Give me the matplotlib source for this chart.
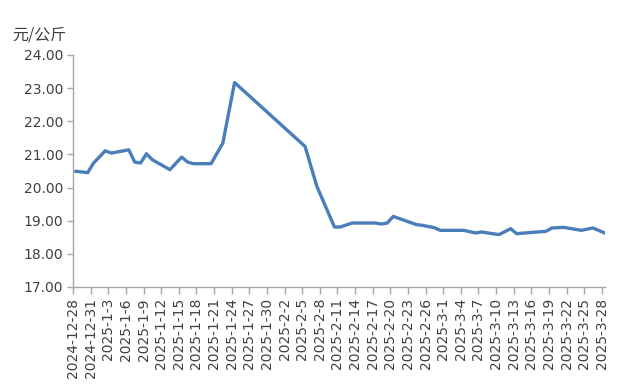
import matplotlib
matplotlib.use("Agg")
import matplotlib.pyplot as plt
import pandas as pd

# Daily price readings (元/公斤)
dates = [
    "2024-12-28", "2024-12-30", "2024-12-31", "2025-01-02", "2025-01-03",
    "2025-01-06", "2025-01-07", "2025-01-08", "2025-01-09", "2025-01-10",
    "2025-01-13", "2025-01-15", "2025-01-16", "2025-01-17", "2025-01-20",
    "2025-01-22", "2025-01-24", "2025-02-05", "2025-02-07", "2025-02-10",
    "2025-02-11", "2025-02-13", "2025-02-17", "2025-02-18", "2025-02-19",
    "2025-02-20", "2025-02-24", "2025-02-25", "2025-02-27", "2025-02-28",
    "2025-03-03", "2025-03-04", "2025-03-06", "2025-03-07", "2025-03-10",
    "2025-03-12", "2025-03-13", "2025-03-18", "2025-03-19", "2025-03-21",
    "2025-03-24", "2025-03-26", "2025-03-28",
]
prices = [
    20.49, 20.45, 20.74, 21.11, 21.04,
    21.14, 20.77, 20.74, 21.02, 20.84,
    20.54, 20.92, 20.77, 20.72, 20.72,
    21.34, 23.17, 21.24, 20.04, 18.81,
    18.81, 18.93, 18.93, 18.90, 18.93,
    19.13, 18.88, 18.86, 18.79, 18.71,
    18.71, 18.71, 18.63, 18.66, 18.58,
    18.76, 18.61, 18.68, 18.78, 18.80,
    18.71, 18.78, 18.63,
]
start = pd.Timestamp("2024-12-28")
tick_dates = pd.date_range(start, "2025-03-28", freq="3D")
tick_labels = [f"{d.year}-{d.month}-{d.day}" for d in tick_dates]

LINE_COLOR = "#4A7EBB"
AXIS_COLOR = "#A6A6A6"
TEXT_COLOR = "#404040"

# day offsets; points sit in the middle of each day slot (Excel date axis)
x = [(pd.Timestamp(d) - start).days + 0.5 for d in dates]
tick_x = [(d - start).days for d in tick_dates]

fig = plt.figure(figsize=(6.17, 3.86), dpi=100)
ax = fig.add_axes([73 / 617, 99 / 386, 532 / 617, 232 / 386])

ax.plot(x, prices, color=LINE_COLOR, linewidth=2.4, solid_joinstyle="round")

ax.set_xlim(0, 90.55)
ax.set_ylim(17, 24)
ax.set_yticks([17 + i for i in range(8)])
ax.set_yticklabels([f"{17 + i:.2f}" for i in range(8)])
ax.set_xticks(tick_x)
ax.set_xticklabels(tick_labels, rotation=90)

for side in ["top", "right"]:
    ax.spines[side].set_visible(False)
for side in ["left", "bottom"]:
    ax.spines[side].set_color(AXIS_COLOR)
    ax.spines[side].set_linewidth(1.0)

ax.tick_params(axis="both", colors=AXIS_COLOR, labelcolor=TEXT_COLOR,
               labelsize=10, direction="out", width=1.0)
ax.tick_params(axis="y", length=4, pad=3)
ax.tick_params(axis="x", length=5, pad=3)

fig.text(12 / 617, 1 - 35 / 386, "元/公斤", fontsize=11.5, color=TEXT_COLOR,
         family=["Noto Sans CJK SC", "DejaVu Sans"], va="center", ha="left")

fig.savefig("out.png", dpi=100)
